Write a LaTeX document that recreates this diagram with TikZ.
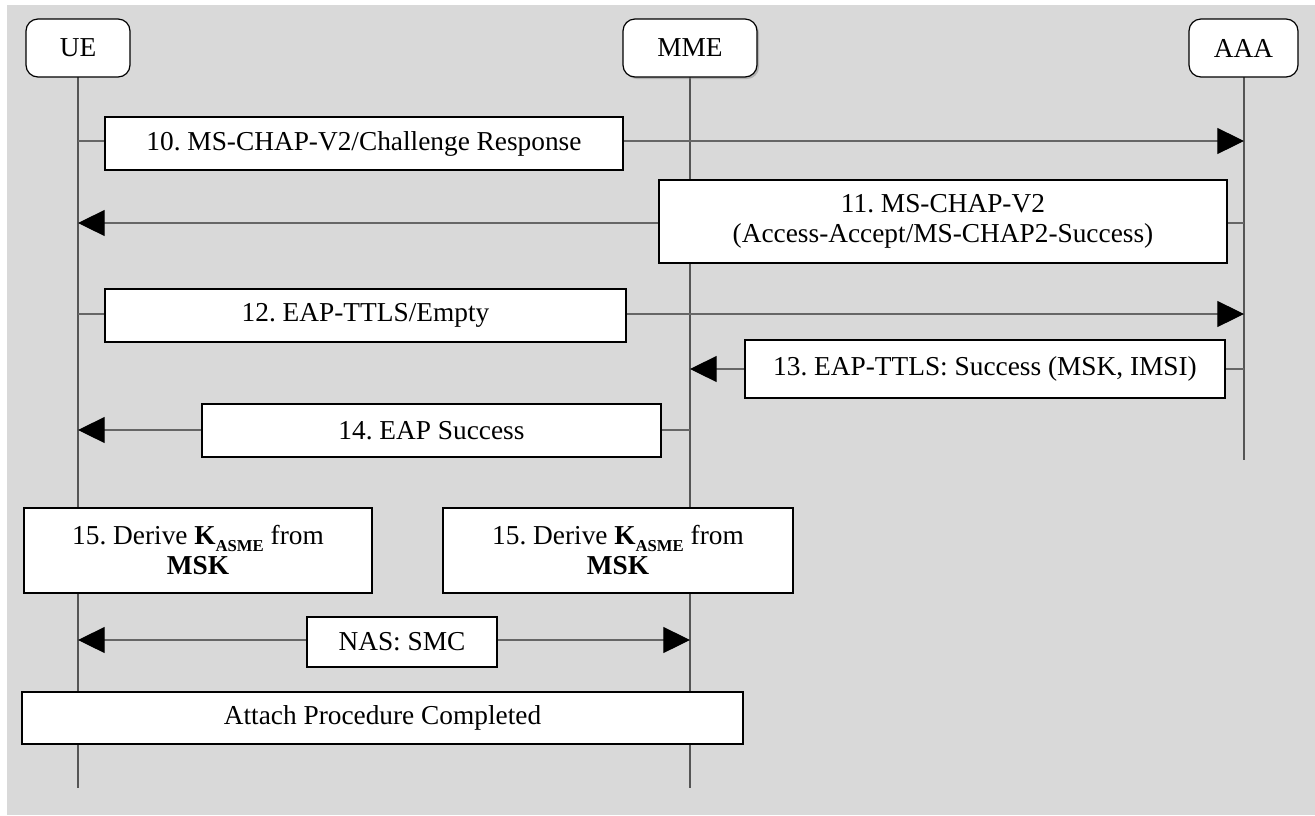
\documentclass[tikz,border=0pt]{standalone}
\usepackage{fontspec}
\setmainfont{Liberation Serif}
\usetikzlibrary{arrows.meta,fit,shadows}
\definecolor{canvas}{HTML}{D9D9D9}
\definecolor{lifegray}{HTML}{555555}
\definecolor{msggray}{HTML}{666666}
\newcommand\kasme{\textbf{K}\raisebox{-5pt}{\fontsize{12.5}{13}\selectfont\bfseries ASME}}
\frenchspacing
\begin{document}
\begin{tikzpicture}[x=0.75pt,y=-0.75pt,
  every node/.style={font=\fontsize{20.5}{22.5}\selectfont},
  actor/.style={draw=black,fill=white,line width=0.9pt,rounded corners=9pt,inner sep=0pt},
  msgbox/.style={draw=black,fill=white,line width=0.9pt,inner sep=0pt,align=center},
  lifeline/.style={draw=lifegray,line width=1pt},
  msg/.style={draw=msggray,line width=0.8pt,-{Triangle[length=20pt,width=19.5pt,fill=black,color=black]}},
  msgboth/.style={draw=msggray,line width=0.8pt,{Triangle[length=20pt,width=19.5pt,fill=black,color=black]}-{Triangle[length=20pt,width=19.5pt,fill=black,color=black]}}]
% canvas
\useasboundingbox (0,0) rectangle (1315,815);
\fill[canvas] (7,5) rectangle (1315,815);

% lifeline end points
\coordinate (ue-t) at (78,77);   \coordinate (ue-b) at (78,788);
\coordinate (mme-t) at (690,77); \coordinate (mme-b) at (690,788);
\coordinate (aaa-t) at (1244,77); \coordinate (aaa-b) at (1244,460);
\draw[lifeline] (ue-t) -- (ue-b);
\draw[lifeline] (mme-t) -- (mme-b);
\draw[lifeline] (aaa-t) -- (aaa-b);

% actors
\node[actor,fit={(26,19) (130,77)}] (ue) {};
\node at (ue.center) (ue-lbl) {UE};
\node[actor,drop shadow={shadow xshift=1.5pt,shadow yshift=-1.5pt,opacity=0.45},fit={(623,19) (757,77)}] (mme) {};
\node at (mme.center) (mme-lbl) {MME};
\node[actor,fit={(1189,19) (1298,77)}] (aaa) {};
\node at (aaa.center) (aaa-lbl) {AAA};

% message rows
\coordinate (r10) at (0,141);
\coordinate (r11) at (0,223);
\coordinate (r12) at (0,314);
\coordinate (r13) at (0,369);
\coordinate (r14) at (0,430);
\coordinate (r16) at (0,640);

\draw[msg] (ue-t |- r10) -- (aaa-t |- r10);
\draw[msg] (aaa-t |- r11) -- (ue-t |- r11);
\draw[msg] (ue-t |- r12) -- (aaa-t |- r12);
\draw[msg] (aaa-t |- r13) -- (mme-t |- r13);
\draw[msg] (mme-t |- r14) -- (ue-t |- r14);
\draw[msgboth] (ue-t |- r16) -- (mme-t |- r16);

% message labels
\node[msgbox,fit={(105,117) (623,170)}] (m10) {};
\node at (m10.center) {10. MS-CHAP-V2/Challenge Response};
\node[msgbox,fit={(659,180) (1227,263)}] (m11) {};
\node[align=center] at (m11.center) {11. MS-CHAP-V2\\(Access-Accept/MS-CHAP2-Success)};
\node[msgbox,fit={(105,289) (626,342)}] (m12) {};
\node at (m12.center) {12. EAP-TTLS/Empty};
\node[msgbox,fit={(745,340) (1225,398)}] (m13) {};
\node at (m13.center) {13. EAP-TTLS: Success (MSK, IMSI)};
\node[msgbox,fit={(202,404) (661,457)}] (m14) {};
\node at (m14.center) {14. EAP Success};

% local actions
\node[msgbox,fit={(24,508) (372,593)}] (d-ue) {};
\node[align=center] at (d-ue.center) {15. Derive \kasme{} from\\\textbf{MSK}};
\node[msgbox,fit={(443,508) (793,593)}] (d-mme) {};
\node[align=center] at (d-mme.center) {15. Derive \kasme{} from\\\textbf{MSK}};

\node[msgbox,fit={(307,617) (497,667)}] (smc) {};
\node at (smc.center) {NAS: SMC};

\node[msgbox,fit={(22,692) (743,744)}] (done) {};
\node at (done.center) {Attach Procedure Completed};
\end{tikzpicture}
\end{document}
